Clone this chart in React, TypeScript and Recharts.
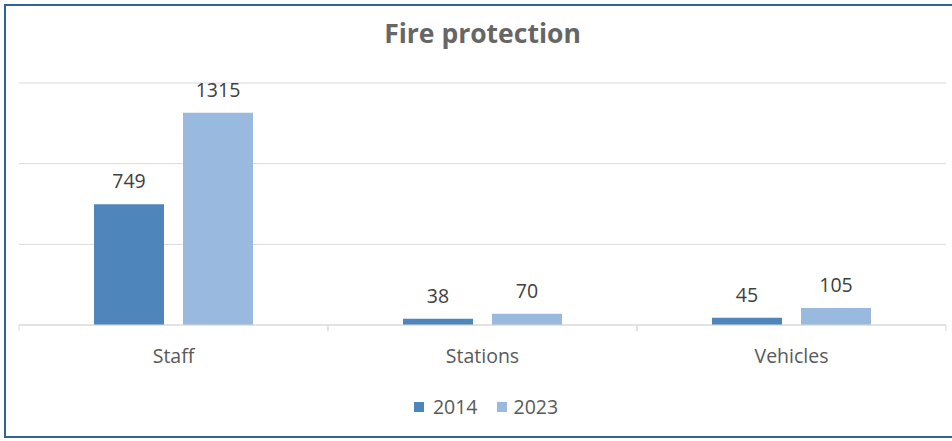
import React from 'react';
import { BarChart, Bar, XAxis, YAxis, CartesianGrid, LabelList } from 'recharts';

const categories = ['Staff', 'Stations', 'Vehicles'];
const values2014 = [749, 38, 45];
const values2023 = [1315, 70, 105];
const yTicks = [0, 500, 1000, 1500];
const seriesNames = ['2014', '2023'];

const data = categories.map((c, i) => ({ name: c, y2014: values2014[i], y2023: values2023[i] }));

const W = 952;
const H = 441;
const AXIS_H = 30;
const M = { top: 83, right: 6, left: 19, bottom: 116 - AXIS_H };
const HALF_BAND = (W - M.left - M.right) / categories.length / 2;
const FONT = '"Open Sans", "Segoe UI", sans-serif';
const C1 = '#4E86BC';
const C2 = '#99B9DF';

const CatTick = (props: any) => {
  const { x, y, payload } = props;
  return (
    <g>
      <line x1={x - HALF_BAND} x2={x - HALF_BAND} y1={y - 8} y2={y - 2} stroke="#d9d9d9" />
      <line x1={x + HALF_BAND} x2={x + HALF_BAND} y1={y - 8} y2={y - 2} stroke="#d9d9d9" />
      <text x={x} y={y + 30} textAnchor="middle" fill="#595959" fontSize={19.5} fontFamily={FONT}>
        {payload.value}
      </text>
    </g>
  );
};

export default function App() {
  return (
    <div style={{ position: 'absolute', left: 0, top: 0, width: W, height: H, background: '#fff' }}>
      <div
        style={{
          position: 'absolute', left: 4, top: 4, width: W - 4, height: H - 7,
          borderTop: '2px solid #2F6497', borderLeft: '2px solid #2F6497', borderBottom: '2px solid #2F6497',
          boxSizing: 'border-box',
        }}
      />
      <div
        style={{
          position: 'absolute', left: M.left, width: W - M.left - M.right, top: 15, textAlign: 'center',
          fontFamily: FONT, fontWeight: 700, fontSize: 26.5, color: '#666666', lineHeight: '36px',
        }}
      >
        Fire protection
      </div>
      <BarChart width={W} height={H} data={data} margin={M} barGap={19} style={{ position: 'absolute', left: 0, top: 0 }}>
        <CartesianGrid vertical={false} stroke="#d9d9d9" />
        <XAxis dataKey="name" height={AXIS_H} axisLine={{ stroke: '#d9d9d9' }} tickLine={false} tick={<CatTick />} interval={0} />
        <YAxis hide domain={[0, 1500]} ticks={yTicks} />
        <Bar dataKey="y2014" fill={C1} barSize={70} isAnimationActive={false}>
          <LabelList dataKey="y2014" position="top" offset={16} fill="#404040" fontSize={19.5} fontFamily={FONT} />
        </Bar>
        <Bar dataKey="y2023" fill={C2} barSize={70} isAnimationActive={false}>
          <LabelList dataKey="y2023" position="top" offset={16} fill="#404040" fontSize={19.5} fontFamily={FONT} />
        </Bar>
      </BarChart>
      <div
        style={{
          position: 'absolute', top: 394, left: 0, width: W, display: 'flex', justifyContent: 'center', alignItems: 'center',
          fontFamily: FONT, fontSize: 19.5, color: '#595959', lineHeight: '26px', paddingLeft: 20, boxSizing: 'border-box',
        }}
      >
        <span style={{ display: 'inline-block', width: 10, height: 10, background: C1, marginRight: 9 }} />
        <span style={{ marginRight: 19 }}>{seriesNames[0]}</span>
        <span style={{ display: 'inline-block', width: 10, height: 10, background: C2, marginRight: 7 }} />
        <span>{seriesNames[1]}</span>
      </div>
    </div>
  );
}
